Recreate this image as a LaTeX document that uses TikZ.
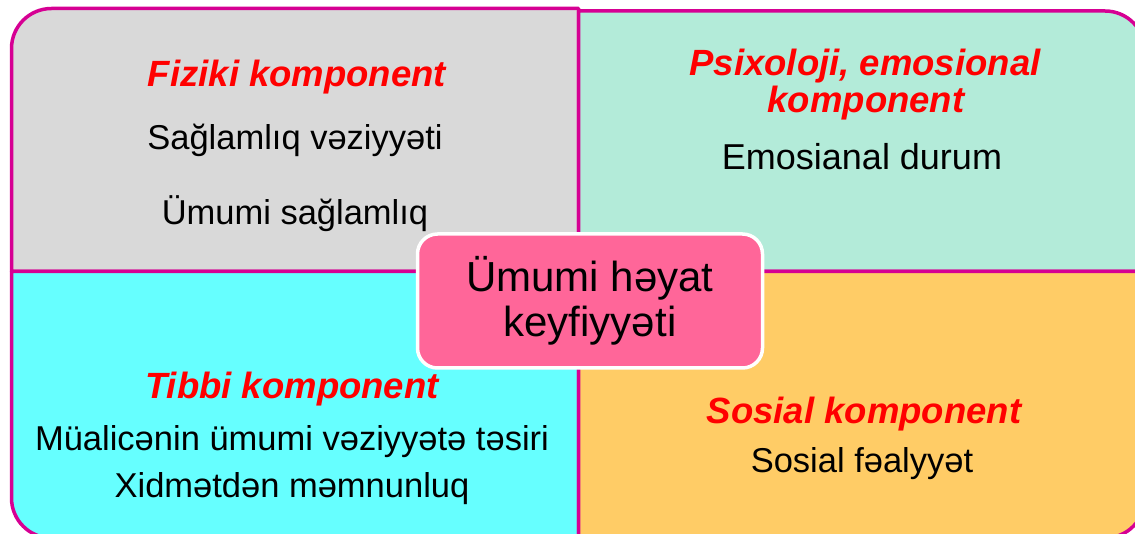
\documentclass[tikz,border=0pt]{standalone}
\usepackage{fontspec}
\setmainfont{Liberation Sans}
\definecolor{edge}{RGB}{214,0,147}
\definecolor{qgray}{RGB}{217,217,217}
\definecolor{qmint}{RGB}{179,235,217}
\definecolor{qcyan}{RGB}{102,255,255}
\definecolor{qorange}{RGB}{255,204,102}
\definecolor{qpink}{RGB}{255,102,153}
\definecolor{hred}{RGB}{255,0,0}
\tikzset{
  quad/.style={draw=edge, line width=3.5pt, line join=round},
  head/.style={anchor=base, inner sep=0pt, text=hred, font=\fontsize{36.5}{40}\selectfont\bfseries\itshape},
  item/.style={anchor=base, inner sep=0pt, text=black, font=\fontsize{34.5}{40}\selectfont},
  core/.style={rounded corners=20pt, fill=qpink, draw=white, line width=3.5pt, minimum width=345pt, minimum height=134pt, inner sep=0pt},
  coretext/.style={anchor=base, inner sep=0pt, text=black, font=\fontsize{42}{46}\selectfont}
}
\begin{document}
\begin{tikzpicture}[x=1pt,y=1pt]
\useasboundingbox (0,0) rectangle (1135,533);
\begin{scope}
\clip (0,0) rectangle (1135,533);
% top-left
\path[quad, fill=qgray] (578.5,261.5) -- (11.5,261.5) -- (11.5,484.5) arc[start angle=180,end angle=90,radius=40] -- (578.5,524.5) -- cycle;
% top-right
\path[quad, fill=qmint] (578.5,261.5) -- (578.5,522) -- (1105,522) arc[start angle=90,end angle=0,radius=40] -- (1145,261.5) -- cycle;
% bottom-left
\path[quad, fill=qcyan] (578.5,261.5) -- (11.5,261.5) -- (11.5,35) arc[start angle=180,end angle=270,radius=40] -- (578.5,-5) -- cycle;
% bottom-right
\path[quad, fill=qorange] (578.5,261.5) -- (1145,261.5) -- (1145,35) arc[start angle=0,end angle=-90,radius=40] -- (578.5,-5) -- cycle;
\end{scope}
% centre box
\node[core] (core) at (590,232) {};
\node[coretext] (c1) at (590,241) {Ümumi həyat};
\node[coretext] (c2) at (590,196) {keyfiyyəti};
% top-left texts
\node[head] (h1) at (297,446) {Fiziki komponent};
\node[item] (t11) at (295,383) {Sağlamlıq vəziyyəti};
\node[item] (t12) at (295,308) {Ümumi sağlamlıq};
% top-right texts
\node[head] (h2a) at (865,457) {Psixoloji, emosional};
\node[head] (h2b) at (866,420) {komponent};
\node[item, font=\fontsize{36}{40}\selectfont] (t21) at (862,363) {Emosianal durum};
% bottom-left texts
\node[head] (h3) at (292,134) {Tibbi komponent};
\node[item] (t31) at (292,83) {Müalicənin ümumi vəziyyətə təsiri};
\node[item] (t32) at (292,36) {Xidmətdən məmnunluq};
% bottom-right texts
\node[head] (h4) at (864,110) {Sosial komponent};
\node[item] (t41) at (862,60) {Sosial fəalyyət};
\end{tikzpicture}
\end{document}
